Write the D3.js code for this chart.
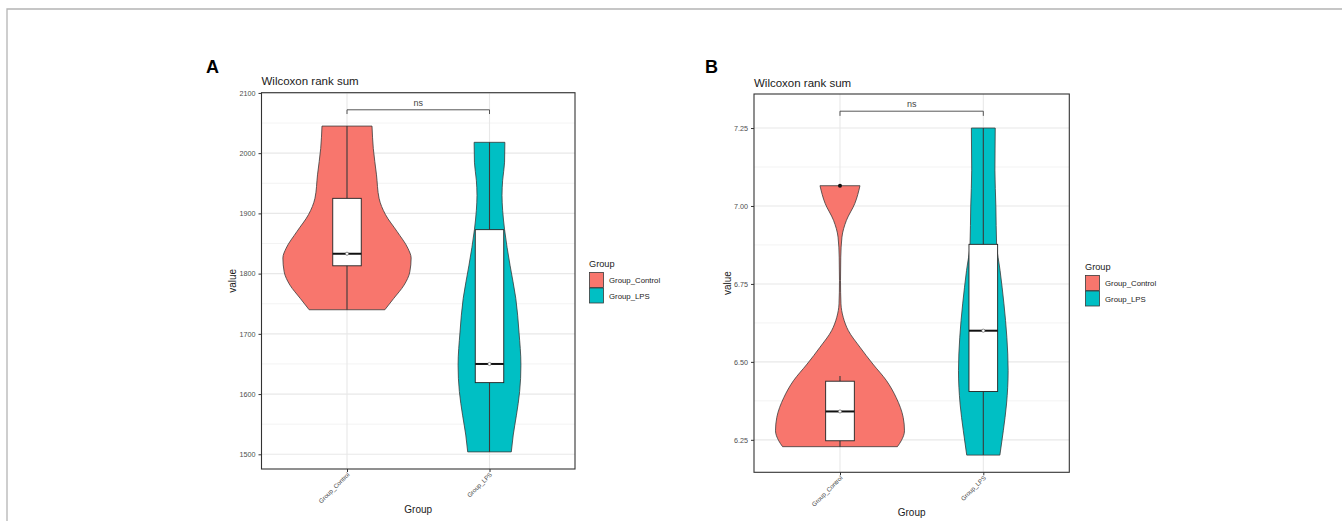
<!DOCTYPE html>
<html>
<head>
<meta charset="utf-8">
<script src="https://d3js.org/d3.v7.min.js"></script>
<style>
	html, body { margin: 0; padding: 0; background: #fff; }
	svg { display: block; font-family: "Liberation Sans", Arial, Helvetica, sans-serif; }
</style>
</head>
<body>
<div id="chart"></div>
<script>
	"use strict";

	// categories shared by both panels
	var groups = ["Group_Control", "Group_LPS"];
	var groupColors = ["#F8766D", "#00BFC4"];

	// ---- panel A: value ----
	var ticksA = [1500, 1600, 1700, 1800, 1900, 2000, 2100];
	// violin outline: [value, relative density]
	var violinA_Control = [
		[2045, 0.39], [2008, 0.41], [1964, 0.46], [1925, 0.50], [1898, 0.60],
		[1870, 0.78], [1842, 0.95], [1826, 1.00], [1803, 0.98], [1781, 0.89],
		[1759, 0.73], [1740, 0.59]
	];
	var violinA_LPS = [
		[2018, 0.24], [1985, 0.235], [1955, 0.205], [1930, 0.195], [1905, 0.205],
		[1873, 0.235], [1814, 0.32], [1759, 0.41], [1703, 0.46], [1648, 0.49],
		[1604, 0.47], [1565, 0.42], [1532, 0.37], [1504, 0.34]
	];
	// box stats: lower whisker, q1, median, q3, upper whisker
	var boxA_Control = [1740, 1813, 1833, 1925, 2045];
	var boxA_LPS = [1504, 1619, 1650, 1873, 2018];
	var outliersA_Control = [];
	var outliersA_LPS = [];
	var bracketA = [2072, 2065];

	// ---- panel B: value ----
	var ticksB = [6.25, 6.50, 6.75, 7.00, 7.25];
	var violinB_Control = [
		[7.065, 0.31], [7.008, 0.23], [6.954, 0.10], [6.900, 0.03], [6.836, 0.012],
		[6.761, 0.008], [6.686, 0.015], [6.643, 0.05], [6.600, 0.13], [6.547, 0.31],
		[6.493, 0.51], [6.440, 0.72], [6.386, 0.87], [6.322, 0.98], [6.279, 1.00],
		[6.247, 0.95], [6.228, 0.89]
	];
	var violinB_LPS = [
		[7.250, 0.185], [7.115, 0.18], [6.997, 0.195], [6.877, 0.206], [6.793, 0.26],
		[6.686, 0.32], [6.579, 0.365], [6.472, 0.385], [6.365, 0.36], [6.279, 0.31],
		[6.201, 0.257]
	];
	var boxB_Control = [6.228, 6.247, 6.341, 6.438, 6.455];
	var boxB_LPS = [6.201, 6.405, 6.600, 6.877, 7.250];
	var outliersB_Control = [7.065];
	var outliersB_LPS = [];
	var bracketB = [7.304, 7.289];

	var W = 1342, H = 521;
	var svg = d3.select("#chart").append("svg")
		.attr("width", W)
		.attr("height", H);

	// thin grey frame of the figure
	svg.append("path")
		.attr("d", "M7," + H + "V9H" + W)
		.attr("fill", "none")
		.attr("stroke", "#b4b4b4")
		.attr("stroke-width", 1.3);

	function drawPanel(cfg) {
		var g = svg.append("g");

		// y domain like ggplot: data range + 5% each side
		var vals = [];
		cfg.violins.forEach(function(v) { v.forEach(function(d) { vals.push(d[0]); }); });
		vals = vals.concat(cfg.bracket);
		var lo = d3.min(vals), hi = d3.max(vals), pad = (hi - lo) * 0.05;

		var y = d3.scaleLinear().domain([lo - pad, hi + pad]).range([cfg.bottom, cfg.top]);
		var x = d3.scalePoint().domain(groups).range([cfg.left, cfg.right]).padding(0.6);
		var w = d3.scaleLinear().domain([0, 1]).range([0, 0.45 * x.step()]);
		var boxHalf = 0.1 * x.step();

		// label + title
		g.append("text")
			.attr("x", cfg.labelX).attr("y", 72.5)
			.attr("font-size", 18).attr("font-weight", "bold")
			.text(cfg.label);
		g.append("text")
			.attr("x", cfg.left).attr("y", cfg.top - 7.5)
			.attr("font-size", 11.5).attr("fill", "#1a1a1a")
			.text("Wilcoxon rank sum");

		// grid
		var step = cfg.ticks[1] - cfg.ticks[0];
		var minor = [cfg.ticks[0] - step / 2].concat(cfg.ticks.map(function(t) { return t + step / 2; }))
			.filter(function(t) { return t > y.domain()[0] && t < y.domain()[1]; });
		g.selectAll("line.minor").data(minor).enter().append("line")
			.attr("x1", cfg.left).attr("x2", cfg.right)
			.attr("y1", function(d) { return y(d); }).attr("y2", function(d) { return y(d); })
			.attr("stroke", "#f0f0f0").attr("stroke-width", 0.8);
		g.selectAll("line.major").data(cfg.ticks).enter().append("line")
			.attr("x1", cfg.left).attr("x2", cfg.right)
			.attr("y1", function(d) { return y(d); }).attr("y2", function(d) { return y(d); })
			.attr("stroke", "#e8e8e8").attr("stroke-width", 1.1);
		g.selectAll("line.vgrid").data(groups).enter().append("line")
			.attr("x1", function(d) { return x(d); }).attr("x2", function(d) { return x(d); })
			.attr("y1", cfg.top).attr("y2", cfg.bottom)
			.attr("stroke", "#e8e8e8").attr("stroke-width", 1.1);

		// violins
		cfg.violins.forEach(function(v, i) {
			var cx = x(groups[i]);
			var area = d3.area()
				.y(function(d) { return y(d[0]); })
				.x0(function(d) { return cx - w(d[1]); })
				.x1(function(d) { return cx + w(d[1]); })
				.curve(d3.curveMonotoneY);
			g.append("path")
				.datum(v.slice().sort(function(a, b) { return b[0] - a[0]; }))
				.attr("d", area)
				.attr("fill", groupColors[i])
				.attr("stroke", "#3a3a3a")
				.attr("stroke-width", 0.8);
		});

		// boxplots
		cfg.boxes.forEach(function(b, i) {
			var cx = x(groups[i]);
			g.append("line")
				.attr("x1", cx).attr("x2", cx)
				.attr("y1", y(b[0])).attr("y2", y(b[4]))
				.attr("stroke", "#3a3a3a").attr("stroke-width", 1.1);
			g.append("rect")
				.attr("x", cx - boxHalf).attr("width", boxHalf * 2)
				.attr("y", y(b[3])).attr("height", y(b[1]) - y(b[3]))
				.attr("fill", "#fff").attr("stroke", "#222").attr("stroke-width", 0.9);
			g.append("line")
				.attr("x1", cx - boxHalf).attr("x2", cx + boxHalf)
				.attr("y1", y(b[2])).attr("y2", y(b[2]))
				.attr("stroke", "#111").attr("stroke-width", 2);
			g.append("circle")
				.attr("cx", cx).attr("cy", y(b[2])).attr("r", 1.6)
				.attr("fill", "#fff").attr("stroke", "#555").attr("stroke-width", 0.6);
			cfg.outliers[i].forEach(function(o) {
				g.append("circle")
					.attr("cx", cx).attr("cy", y(o)).attr("r", 2)
					.attr("fill", "#111");
			});
		});

		// significance bracket
		var x1 = x(groups[0]), x2 = x(groups[1]);
		g.append("path")
			.attr("d", "M" + x1 + "," + y(cfg.bracket[1]) + "V" + y(cfg.bracket[0]) +
				"H" + x2 + "V" + y(cfg.bracket[1]))
			.attr("fill", "none").attr("stroke", "#444").attr("stroke-width", 0.9);
		g.append("text")
			.attr("x", (x1 + x2) / 2).attr("y", y(cfg.bracket[0]) - 4)
			.attr("text-anchor", "middle").attr("font-size", 9).attr("fill", "#444")
			.text("ns");

		// panel border
		g.append("rect")
			.attr("x", cfg.left).attr("y", cfg.top)
			.attr("width", cfg.right - cfg.left).attr("height", cfg.bottom - cfg.top)
			.attr("fill", "none").attr("stroke", "#333").attr("stroke-width", 1.1);

		// axes
		var yAxis = g.append("g")
			.attr("transform", "translate(" + cfg.left + ",0)")
			.call(d3.axisLeft(y).tickValues(cfg.ticks).tickSize(3).tickFormat(cfg.fmt));
		yAxis.select(".domain").remove();
		yAxis.selectAll("line").attr("stroke", "#333");
		yAxis.selectAll("text").attr("font-size", 7.2).attr("fill", "#4d4d4d")
			.attr("font-family", "Liberation Sans, Arial, sans-serif");

		var xAxis = g.append("g")
			.attr("transform", "translate(0," + cfg.bottom + ")")
			.call(d3.axisBottom(x).tickSize(3));
		xAxis.select(".domain").remove();
		xAxis.selectAll("line").attr("stroke", "#333");
		xAxis.selectAll("text")
			.attr("y", 0).attr("dy", 0)
			.attr("transform", "translate(2.5,6) rotate(-45)")
			.style("text-anchor", "end")
			.attr("font-size", 6.2).attr("fill", "#4d4d4d")
			.attr("font-family", "Liberation Sans, Arial, sans-serif");

		// axis titles
		g.append("text")
			.attr("transform", "translate(" + cfg.yTitleX + "," + ((cfg.top + cfg.bottom) / 2) + ") rotate(-90)")
			.attr("text-anchor", "middle").attr("font-size", 10).attr("fill", "#1a1a1a")
			.text("value");
		g.append("text")
			.attr("x", (cfg.left + cfg.right) / 2).attr("y", cfg.bottom + 44)
			.attr("text-anchor", "middle").attr("font-size", 10).attr("fill", "#1a1a1a")
			.text("Group");

		// legend
		var lg = g.append("g").attr("transform", "translate(" + cfg.legendX + "," + cfg.legendY + ")");
		lg.append("text").attr("x", 0).attr("y", 0)
			.attr("font-size", 9.2).attr("fill", "#1a1a1a").text("Group");
		groups.forEach(function(name, i) {
			lg.append("rect")
				.attr("x", 0.5).attr("y", 6 + i * 15.5)
				.attr("width", 14).attr("height", 15)
				.attr("fill", groupColors[i]).attr("stroke", "#3a3a3a").attr("stroke-width", 0.8);
			lg.append("text")
				.attr("x", 20).attr("y", 6 + i * 15.5 + 10.5)
				.attr("font-size", 7.8).attr("fill", "#1a1a1a")
				.text(name);
		});
	}

	drawPanel({
		label: "A", labelX: 206,
		left: 261.5, right: 575, top: 92.7, bottom: 469,
		ticks: ticksA, fmt: d3.format("d"),
		violins: [violinA_Control, violinA_LPS],
		boxes: [boxA_Control, boxA_LPS],
		outliers: [outliersA_Control, outliersA_LPS],
		bracket: bracketA,
		yTitleX: 236, legendX: 589, legendY: 266.5
	});

	drawPanel({
		label: "B", labelX: 705,
		left: 754, right: 1069.3, top: 94, bottom: 472.3,
		ticks: ticksB, fmt: d3.format(".2f"),
		violins: [violinB_Control, violinB_LPS],
		boxes: [boxB_Control, boxB_LPS],
		outliers: [outliersB_Control, outliersB_LPS],
		bracket: bracketB,
		yTitleX: 731, legendX: 1085, legendY: 269.5
	});
</script>
</body>
</html>
